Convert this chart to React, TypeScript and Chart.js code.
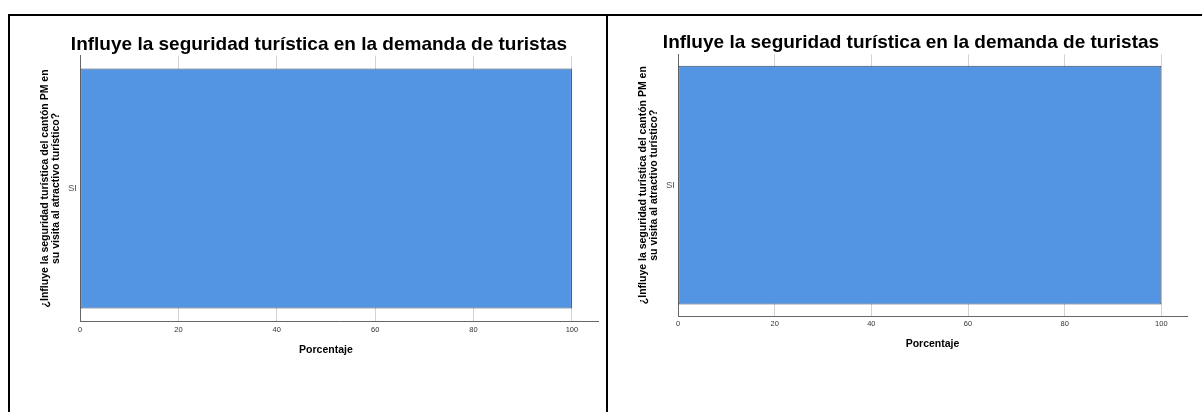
import React, { useEffect, useRef } from "react";
import { Chart, registerables } from "chart.js";

Chart.register(...registerables);

const categories = ["SI"];
const leftValues = [100];
const rightValues = [100];
const xTickValues = [0, 20, 40, 60, 80, 100];
const chartTitle = "Influye la seguridad turística en la demanda de turistas";
const yAxisTitle = [
  "¿Influye la seguridad turística del cantón PM en",
  "su visita al atractivo turístico?",
];
const xAxisTitle = "Porcentaje";

const FONT = "'Liberation Sans', Arial, Helvetica, sans-serif";

type PanelSpec = {
  left: number;
  top: number;
  width: number;
  height: number;
  values: number[];
  padL: number;
  padR: number;
  padB: number;
  yAxisW: number;
  xAxisH: number;
  titlePadTop: number;
  titlePadBottom: number;
  yTitlePad: number;
  xTickPad: number;
  xTitleOffset: number;
  xTitleCenterValue: number | null;
  barPct: number;
};

function Panel({ spec }: { spec: PanelSpec }) {
  const ref = useRef<HTMLCanvasElement>(null);
  useEffect(() => {
    if (!ref.current) return;
    const xTitlePlugin = {
      id: "xTitlePlugin",
      afterDraw(chart: any) {
        const xs = chart.scales.x;
        const ctx = chart.ctx;
        const cx =
          spec.xTitleCenterValue === null
            ? (xs.left + xs.right) / 2
            : xs.getPixelForValue(spec.xTitleCenterValue);
        ctx.save();
        ctx.font = `bold 10.5px ${FONT}`;
        ctx.fillStyle = "#000";
        ctx.textAlign = "center";
        ctx.textBaseline = "middle";
        ctx.fillText(xAxisTitle, cx, xs.top + spec.xTitleOffset);
        ctx.restore();
      },
    };
    const chart = new Chart(ref.current, {
      type: "bar",
      data: {
        labels: categories,
        datasets: [
          {
            data: spec.values,
            backgroundColor: "#5495E3",
            borderColor: "#3c4a60",
            borderWidth: 1,
            borderSkipped: false,
            categoryPercentage: 1,
            barPercentage: spec.barPct,
          },
        ],
      },
      options: {
        indexAxis: "y",
        responsive: false,
        animation: false,
        layout: {
          padding: { left: spec.padL, right: spec.padR, top: 0, bottom: spec.padB },
        },
        plugins: {
          legend: { display: false },
          tooltip: { enabled: false },
          title: {
            display: true,
            text: chartTitle,
            color: "#000",
            font: { family: FONT, size: 19, weight: "bold", lineHeight: 1.2 },
            padding: { top: spec.titlePadTop, bottom: spec.titlePadBottom },
          },
        },
        scales: {
          x: {
            type: "linear",
            min: 0,
            max: 105.3,
            afterBuildTicks: (scale: any) => {
              scale.ticks = xTickValues.map((v) => ({ value: v }));
            },
            afterFit: (scale: any) => {
              scale.height = spec.xAxisH;
            },
            grid: {
              color: "#d2d2d2",
              lineWidth: 1,
              drawTicks: false,
            },
            border: { display: true, color: "#666", width: 1 },
            ticks: {
              color: "#333",
              padding: spec.xTickPad,
              font: { family: FONT, size: 7.5 },
              maxRotation: 0,
            },
            title: { display: false },
          },
          y: {
            type: "category",
            afterFit: (scale: any) => {
              scale.width = spec.yAxisW;
            },
            grid: { display: false, drawTicks: false },
            border: { display: true, color: "#666", width: 1 },
            ticks: {
              color: "#555",
              padding: 3,
              font: { family: FONT, size: 9.5 },
            },
            title: {
              display: true,
              text: yAxisTitle,
              color: "#000",
              font: { family: FONT, size: 10.5, weight: "bold", lineHeight: "11px" as any },
              padding: { top: spec.yTitlePad, bottom: 0 },
            },
          },
        },
      },
      plugins: [xTitlePlugin],
    });
    return () => chart.destroy();
  }, []);
  return (
    <canvas
      ref={ref}
      width={spec.width}
      height={spec.height}
      style={{
        position: "absolute",
        left: spec.left,
        top: spec.top,
        width: spec.width,
        height: spec.height,
        display: "block",
      }}
    />
  );
}

const leftSpec: PanelSpec = {
  left: 10,
  top: 16,
  width: 596,
  height: 396,
  values: leftValues,
  padL: 30,
  padR: 8,
  padB: 51,
  yAxisW: 40,
  xAxisH: 40,
  titlePadTop: 17,
  titlePadBottom: 0,
  yTitlePad: 0,
  xTickPad: 4.5,
  xTitleOffset: 29,
  xTitleCenterValue: 50,
  barPct: 0.905,
};

const rightSpec: PanelSpec = {
  left: 608,
  top: 16,
  width: 594,
  height: 396,
  values: rightValues,
  padL: 27,
  padR: 15,
  padB: 56,
  yAxisW: 43,
  xAxisH: 40,
  titlePadTop: 15,
  titlePadBottom: 0.5,
  yTitlePad: 2.5,
  xTickPad: 3.5,
  xTitleOffset: 28,
  xTitleCenterValue: null,
  barPct: 0.913,
};

export default function App() {
  return (
    <div>
      <div style={{ position: "absolute", left: 8, top: 14, width: 1194, height: 2, background: "#000" }} />
      <div style={{ position: "absolute", left: 8, top: 14, width: 2, height: 398, background: "#000" }} />
      <div style={{ position: "absolute", left: 606, top: 14, width: 2, height: 398, background: "#000" }} />
      <Panel spec={leftSpec} />
      <Panel spec={rightSpec} />
    </div>
  );
}
